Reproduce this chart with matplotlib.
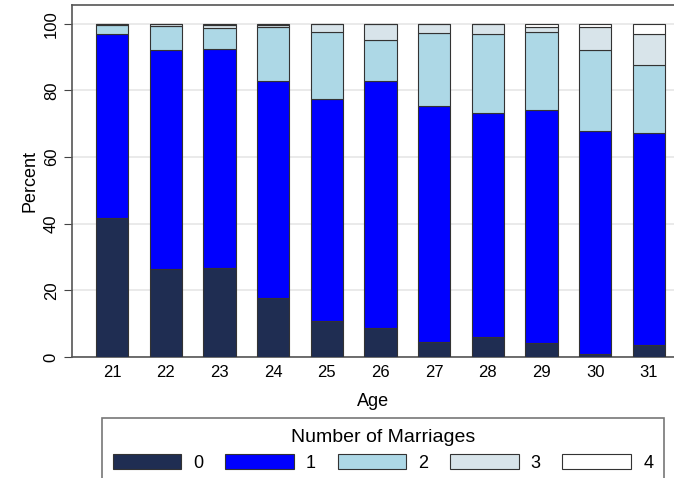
import matplotlib.pyplot as plt
import numpy as np

plt.rcParams['font.family'] = ['Liberation Sans', 'DejaVu Sans']

# Dados: percentagem por idade e numero de casamentos
idades = [21, 22, 23, 24, 25, 26, 27, 28, 29, 30, 31]
casamentos_0 = [41.7, 26.4, 26.7, 17.7, 10.8, 8.7, 4.6, 6.1, 4.1, 0.9, 3.5]
casamentos_1 = [55.3, 65.6, 65.7, 65.2, 66.6, 74.2, 70.8, 67.1, 69.9, 67.0, 63.8]
casamentos_2 = [2.7, 7.2, 6.2, 16.1, 20.0, 12.3, 21.8, 23.7, 23.4, 24.1, 20.4]
casamentos_3 = [0.2, 0.6, 1.1, 0.6, 2.6, 4.8, 2.8, 3.1, 1.6, 7.0, 9.3]
casamentos_4 = [0.1, 0.2, 0.3, 0.4, 0.0, 0.0, 0.0, 0.0, 1.0, 1.0, 3.0]
rotulos = ['0', '1', '2', '3', '4']
cores = ['#1f2d52', '#0000ff', '#add8e6', '#d8e4ea', '#ffffff']

fig = plt.figure(figsize=(6.74, 4.78), dpi=100)
ax = fig.add_axes([72/674, 121/478, 603/674, 351.5/478])

series = [casamentos_0, casamentos_1, casamentos_2, casamentos_3, casamentos_4]
base = np.zeros(len(idades))
for valores, cor, rot in zip(series, cores, rotulos):
    ax.bar(idades, valores, width=0.6, bottom=base, color=cor,
           edgecolor='#333333', linewidth=0.8, label=rot, zorder=3)
    base += np.array(valores)

ax.set_xlim(20.255, 31.484)
ax.set_ylim(0, 105.5)
ax.set_yticks([0, 20, 40, 60, 80, 100])
ax.set_xticks(idades)
ax.grid(axis='y', color='#e6e6e6', linewidth=1.2, zorder=0)
ax.tick_params(axis='y', labelrotation=90, labelsize=12, length=6, color='#444444')
ax.tick_params(axis='x', labelsize=12, length=0, pad=6)
for lbl in ax.get_yticklabels():
    lbl.set_va('center')
for s in ax.spines.values():
    s.set_color('#555555')
    s.set_linewidth(1.2)

ax.set_ylabel('Percent', fontsize=13, labelpad=4)
ax.set_xlabel('Age', fontsize=13, labelpad=9)

leg = fig.legend(loc='upper center', bbox_to_anchor=(383/674, 1 - 418/478),
                 ncol=5, title='Number of Marriages', fontsize=13,
                 title_fontsize=14, frameon=True, fancybox=False,
                 handlelength=3.8, handleheight=0.9, handletextpad=0.67,
                 columnspacing=1.2, borderpad=0.62, labelspacing=0.45,
                 borderaxespad=0)
leg.get_frame().set_edgecolor('#555555')
leg.get_frame().set_linewidth(1.2)

plt.savefig('out.png', dpi=100)
